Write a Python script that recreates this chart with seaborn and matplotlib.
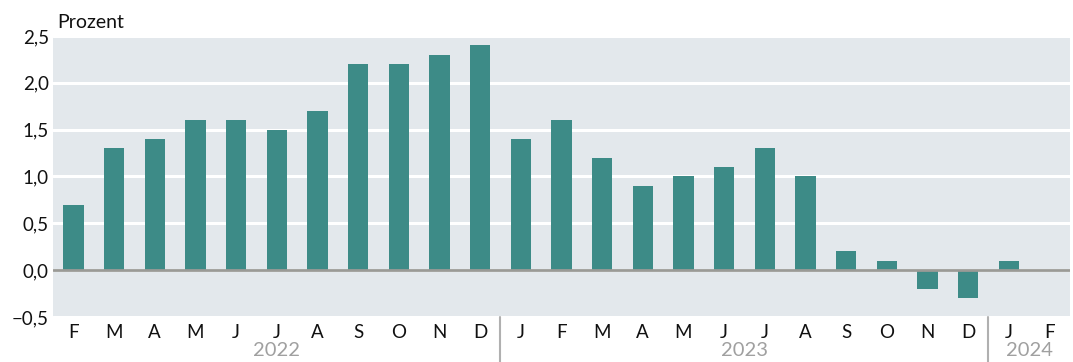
import numpy as np
import pandas as pd
import matplotlib
matplotlib.use("Agg")
import matplotlib.pyplot as plt
import seaborn as sns

months = ["F", "M", "A", "M", "J", "J", "A", "S", "O", "N", "D",
          "J", "F", "M", "A", "M", "J", "J", "A", "S", "O", "N", "D",
          "J", "F"]
values = [0.7, 1.3, 1.4, 1.6, 1.6, 1.5, 1.7, 2.2, 2.2, 2.3, 2.4,
          1.4, 1.6, 1.2, 0.9, 1.0, 1.1, 1.3, 1.0, 0.2, 0.1, -0.2, -0.3,
          0.1, np.nan]
years = ["2022", "2023", "2024"]
year_counts = [11, 12, 2]
yticks = [-0.5, 0.0, 0.5, 1.0, 1.5, 2.0, 2.5]

sns.set_theme(style="white")
plt.rcParams['font.family'] = ['Lato', 'DejaVu Sans']

df = pd.DataFrame({"pos": [str(i) for i in range(len(months))],
                   "value": values})

fig = plt.figure(figsize=(10.73, 3.62), dpi=100)
ax = fig.add_axes([0.0494, 0.1243, 0.9476, 0.7763])
ax.set_facecolor("#e3e8ec")

sns.barplot(data=df, x="pos", y="value", color="#3d8b87", width=0.5,
            saturation=1, ax=ax, zorder=3, linewidth=0, edgecolor="none")

ax.set_ylim(-0.5, 2.5)
ax.set_xlim(-0.5, len(months) - 0.5)
ax.set_yticks(yticks)
ax.set_yticklabels([f"{v:.1f}".replace(".", ",").replace("-", "\u2212") for v in yticks],
                   fontsize=13.5, color="#111111")
ax.yaxis.grid(True, color="white", linewidth=2.2, zorder=1)
ax.set_axisbelow(True)
ax.axhline(0, color="#9a9a96", linewidth=2, zorder=4)
ax.set_xticks(range(len(months)))
ax.set_xticklabels(months, fontsize=13.5, color="#111111")
ax.tick_params(axis="both", length=0, pad=3)
ax.tick_params(axis="x", pad=5)
ax.set_xlabel("")
ax.set_ylabel("")
for s in ax.spines.values():
    s.set_visible(False)

# year labels and separators
start = 0
for yr, cnt in zip(years, year_counts):
    center = start + (cnt - 1) / 2
    ax.text(center, -0.5 - 0.265, yr, ha="center", va="top", fontsize=14.5,
            color="#a0a0a0", transform=ax.transData, clip_on=False)
    if start > 0:
        ax.plot([start - 0.5, start - 0.5], [-0.5, -0.5 - 0.5], color="#b0b0b0",
                linewidth=1.5, clip_on=False, zorder=5)
    start += cnt

fig.text(57 / 1073, 1 - 22 / 362, "Prozent", ha="left", va="center",
         fontsize=14, color="#111111")

fig.savefig("out.png", dpi=100)
